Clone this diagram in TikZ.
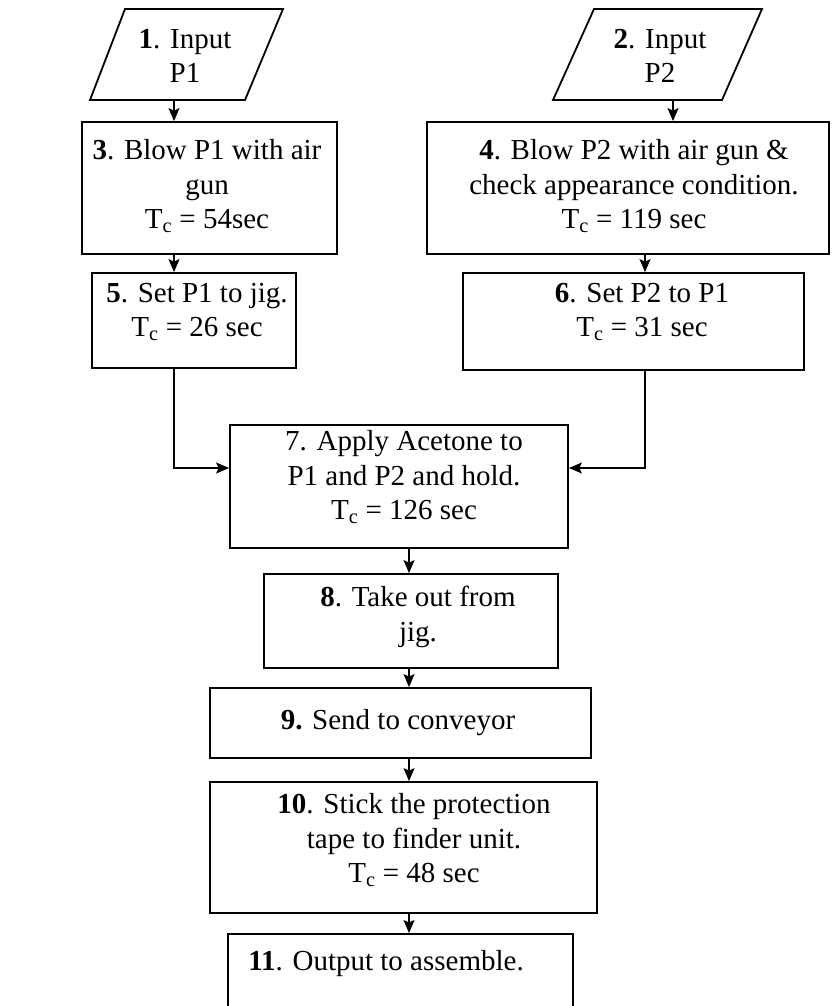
\documentclass[tikz,border=0pt]{standalone}
\usepackage{fontspec}
\setmainfont{Liberation Serif}
\usetikzlibrary{arrows.meta}
\begin{document}
\begin{tikzpicture}[x=1pt,y=-1pt,
  box/.style={draw, line width=1.8pt, inner sep=0pt},
  txt/.style={inner sep=0pt, align=center, font=\fontsize{29}{34.5}\selectfont},
  arr/.style={line width=1.4pt, -{Stealth[length=13pt,width=11pt,inset=2.5pt]}},
  link/.style={line width=1.4pt}]
\useasboundingbox (0,0) rectangle (831,1006);
\clip (0,0) rectangle (831,1006);

% input parallelograms
\draw[line width=1.8pt] (125,9) -- (283,9) -- (245,100) -- (90,100) -- cycle;
\node[txt] (p1) at (185,56) {\textbf{1}. Input\\P1};
\draw[line width=1.8pt] (594,9) -- (762,9) -- (722,100) -- (553,100) -- cycle;
\node[txt] (p2) at (660,56) {\textbf{2}. Input\\P2};
\coordinate (p1b) at (174,100);
\coordinate (p2b) at (673,100);
\coordinate (xl) at (174,0);
\coordinate (xr) at (645,0);
\coordinate (xm) at (409,0);

% boxes
\node[box, minimum width=255, minimum height=132] (n3) at (209.5,188) {};
\node[txt] (t3) at (207,186) {\textbf{3}. Blow P1 with air\\gun\\T\textsubscript{c} = 54sec};
\node[box, minimum width=402, minimum height=132] (n4) at (628,188) {};
\node[txt] (t4) at (634,186) {\textbf{4}. Blow P2 with air gun \&\\check appearance condition.\\T\textsubscript{c} = 119 sec};
\node[box, minimum width=204, minimum height=95] (n5) at (194,320.5) {};
\node[txt] (t5) at (197,312) {\textbf{5}. Set P1 to jig.\\T\textsubscript{c} = 26 sec};
\node[box, minimum width=341, minimum height=97] (n6) at (633.5,321.5) {};
\node[txt] (t6) at (642,312) {\textbf{6}. Set P2 to P1\\T\textsubscript{c} = 31 sec};
\node[box, minimum width=338, minimum height=123] (n7) at (399,486.5) {};
\node[txt] (t7) at (404,477) {7. Apply Acetone to\\P1 and P2 and hold.\\T\textsubscript{c} = 126 sec};
\node[box, minimum width=294, minimum height=94] (n8) at (411,621) {};
\node[txt] (t8) at (418,617) {\textbf{8}. Take out from\\jig.};
\node[box, minimum width=381, minimum height=70] (n9) at (400.5,723) {};
\node[txt] (t9) at (398,723) {\textbf{9.} Send to conveyor};
\node[box, minimum width=387, minimum height=131] (n10) at (403.5,847.5) {};
\node[txt] (t10) at (414,840) {\textbf{10}. Stick the protection\\tape to finder unit.\\T\textsubscript{c} = 48 sec};
\node[box, minimum width=345, minimum height=100, anchor=north] (n11) at (400.5,933) {};
\node[txt] (t11) at (386,964) {\textbf{11}. Output to assemble.};

% connectors
\draw[arr] (p1b) -- (n3.north -| p1b);
\draw[arr] (p2b) -- (n4.north -| p2b);
\draw[arr] (n3.south -| xl) -- (n5.north -| xl);
\draw[arr] (n4.south -| xr) -- (n6.north -| xr);
\coordinate (jl) at (174,468);
\coordinate (jr) at (645,468);
\draw[arr] (n5.south -| jl) -- (jl) -- (n7.west |- jl);
\draw[arr] (n6.south -| jr) -- (jr) -- (n7.east |- jr);
\draw[arr] (n7.south -| xm) -- (n8.north -| xm);
\draw[arr] (n8.south -| xm) -- (n9.north -| xm);
\draw[arr] (n9.south -| xm) -- (n10.north -| xm);
\draw[arr] (n10.south -| xm) -- (n11.north -| xm);
\end{tikzpicture}
\end{document}
